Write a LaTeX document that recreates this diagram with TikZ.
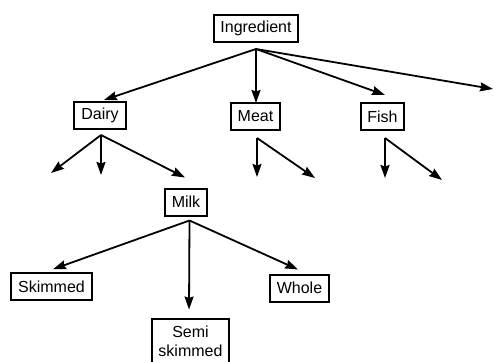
\documentclass[tikz,border=0pt]{standalone}
\usepackage{fontspec}
\setmainfont{Liberation Sans}
\usetikzlibrary{arrows.meta,calc}
\begin{document}
\begin{tikzpicture}[x=1pt,y=-1pt,
  box/.style={draw,line width=2pt,inner sep=0pt,minimum height=27pt,
    font=\fontsize{16}{19}\selectfont},
  arr/.style={line width=1.8pt,-{Stealth[length=13pt,width=9pt,inset=1.5pt]}},
]
\useasboundingbox (0,0) rectangle (494,361);
\clip (0,0) rectangle (494,361);
% nodes
\node[box,minimum width=84pt] (ing) at (256,28.5) {Ingredient};
\node[box,minimum width=52pt] (dairy) at (100,115.5) {Dairy};
\node[box,minimum width=49pt] (meat) at (255.5,116.5) {Meat};
\node[box,minimum width=43pt] (fish) at (382.5,116.5) {Fish};
\node[box,minimum width=42pt] (milk) at (186,202) {Milk};
\node[box,minimum width=81pt] (skim) at (51.5,286.7) {Skimmed};
\node[box,minimum width=59pt] (whole) at (299.5,288) {Whole};
\node[box,minimum width=77pt,minimum height=46pt,anchor=north,align=center] (semi) at (190.5,317.5) {Semi\\skimmed};
% origins
\coordinate (ingo) at ($(ing.south)+(0,6)$);
\coordinate (dairyo) at ($(dairy.south)+(1,5)$);
\coordinate (meato) at ($(meat.south)+(1.5,7)$);
\coordinate (fisho) at ($(fish.south)+(2.5,7)$);
\coordinate (milko) at ($(milk.south)+(3.5,4)$);
% free ends
\coordinate (ingR) at (493,89);
\coordinate (d1) at (51,173);
\coordinate (d2) at (101,175);
\coordinate (m1) at (257,177);
\coordinate (m2) at (315,178);
\coordinate (f1) at (385,178);
\coordinate (f2) at (442,180);
% connectors
\draw[arr] (ingo) -- ($(dairy.north)+(4,-1)$);
\draw[arr] (ingo) -- ($(meat.north)+(0.5,1)$);
\draw[arr] (ingo) -- ($(fish.north)+(2.5,-7)$);
\draw[arr] (ingo) -- (ingR);
\draw[arr] (dairyo) -- (d1);
\draw[arr] (dairyo) -- (d2);
\draw[arr] (dairyo) -- ($(milk.north)+(-1,-10)$);
\draw[arr] (meato) -- (m1);
\draw[arr] (meato) -- (m2);
\draw[arr] (fisho) -- (f1);
\draw[arr] (fisho) -- (f2);
\draw[arr] (milko) -- ($(skim.north)+(1.5,-3)$);
\draw[arr] (milko) -- ($(semi.north)+(-1.5,-8)$);
\draw[arr] (milko) -- ($(whole.north)+(-1.5,-4)$);
\end{tikzpicture}
\end{document}
